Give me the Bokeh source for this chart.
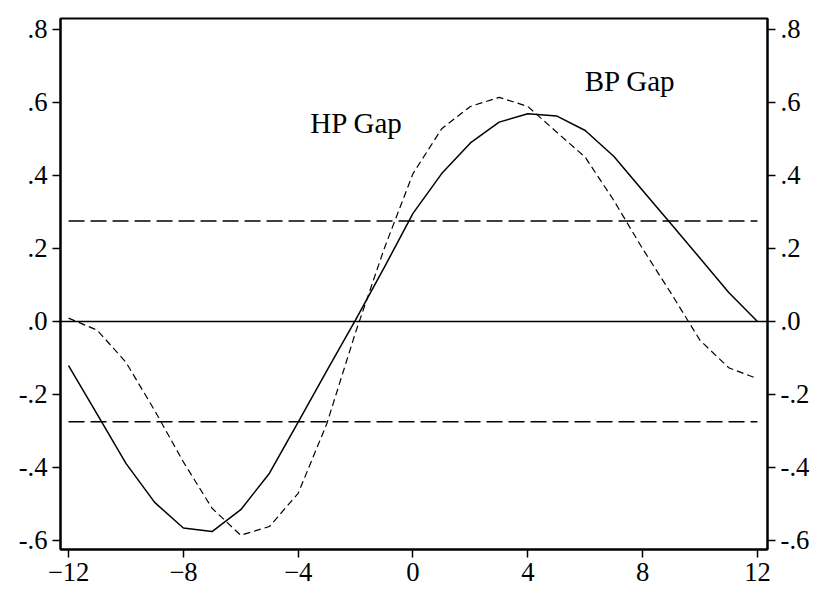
from bokeh.plotting import figure
from bokeh.models import Range1d, LinearAxis, FixedTicker, Span, Label
from bokeh.embed import file_html
from bokeh.resources import INLINE

lags = list(range(-12, 13))
solid_gap = [-0.121, -0.255, -0.389, -0.496, -0.566, -0.576, -0.516, -0.416, -0.276,
             -0.135, 0.004, 0.148, 0.296, 0.405, 0.489, 0.546, 0.569, 0.563, 0.523,
             0.452, 0.359, 0.266, 0.173, 0.079, 0.0]
dashed_gap = [0.009, -0.024, -0.112, -0.244, -0.385, -0.512, -0.586, -0.562, -0.471,
              -0.28, -0.03, 0.20, 0.405, 0.528, 0.589, 0.614, 0.589, 0.519, 0.450,
              0.331, 0.199, 0.076, -0.052, -0.127, -0.157]
band_x = [-12, 12]
band_level = 0.275
y_ticks = [-0.6, -0.4, -0.2, 0.0, 0.2, 0.4, 0.6, 0.8]
y_tick_labels = ["-.6", "-.4", "-.2", ".0", ".2", ".4", ".6", ".8"]
x_ticks = [-12, -8, -4, 0, 4, 8, 12]
label_texts = ["HP Gap", "BP Gap"]
label_x = [-3.58, 5.98]
label_y = [0.545, 0.658]

FONT = "Liberation Serif"
TICK_SIZE = "20pt"

p = figure(frame_width=707, frame_height=531, output_backend="svg", toolbar_location=None,
           x_range=Range1d(-12.28, 12.35), y_range=Range1d(-0.625, 0.83),
           min_border_left=60, min_border_right=45, min_border_top=18, min_border_bottom=40)
p.grid.visible = False
p.outline_line_color = "black"
p.outline_line_width = 2
p.background_fill_color = "white"
p.border_fill_color = "white"

p.add_layout(LinearAxis(), "right")

p.yaxis.ticker = FixedTicker(ticks=y_ticks)
p.yaxis.major_label_overrides = {t: l for t, l in zip(y_ticks, y_tick_labels)}
p.xaxis.ticker = FixedTicker(ticks=x_ticks)
for axes in (p.xaxis, p.yaxis):
    axes.minor_tick_line_color = None
    axes.major_tick_out = 8
    axes.major_tick_in = 0
    axes.major_tick_line_width = 1.5
    axes.axis_line_width = 2
    axes.major_label_text_font = FONT
    axes.major_label_text_font_size = TICK_SIZE
    axes.major_label_text_color = "black"
    axes.major_label_standoff = 5

p.add_layout(Span(location=0, dimension="width", line_color="black", line_width=1.5))
p.line(band_x, [band_level, band_level], line_color="black", line_width=1.5, line_dash="16 6")
p.line(band_x, [-band_level, -band_level], line_color="black", line_width=1.5, line_dash="16 6")

p.line(lags, solid_gap, line_color="black", line_width=1.5)
p.line(lags, dashed_gap, line_color="black", line_width=1.2, line_dash="7 4")

for t, x, y in zip(label_texts, label_x, label_y):
    p.add_layout(Label(x=x, y=y, text=t, text_font=FONT, text_font_size="29px",
                       text_color="black", text_baseline="alphabetic"))

open("out.html", "w").write(file_html(p, INLINE))
